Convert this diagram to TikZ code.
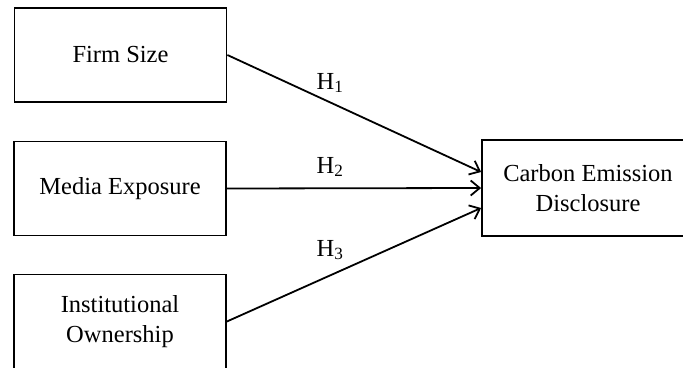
\documentclass[tikz,border=0pt]{standalone}
\usepackage{fontspec}
\setmainfont{Liberation Serif}
\usetikzlibrary{arrows.meta}

\tikzset{
    varbox/.style={draw, line width=1.8pt, minimum width=212pt, minimum height=94pt,
        align=center, font=\fontsize{24.5}{30.5}\selectfont},
    hyp/.style={line width=1.8pt, -{Straight Barb[length=9pt, width=15pt, line width=1.8pt]}},
    hlabel/.style={font=\fontsize{24.5}{30}\selectfont}
}

\begin{document}
\begin{tikzpicture}[x=1pt, y=-1pt]
    \useasboundingbox (0,0) rectangle (683,367);

    % 自变量
    \node[varbox] (fs) at (120.5, 55) {Firm Size};
    \node[varbox] (me) at (120, 188.5) {Media Exposure};
    \node[varbox] (io) at (120, 321.5) {Institutional\\Ownership};

    % 因变量
    \node[varbox, minimum width=212pt, minimum height=96pt] (ced) at (588, 188) {Carbon Emission\\Disclosure};

    % 假设
    \draw[hyp] (fs.east) -- ([yshift=16pt]ced.west);
    \draw[hyp] (me.east) -- (ced.west);
    \draw[hyp] (io.east) -- ([yshift=-20pt]ced.west);

    \node[hlabel] (h1) at (330, 83) {H\textsubscript{1}};
    \node[hlabel] (h2) at (330, 167) {H\textsubscript{2}};
    \node[hlabel] (h3) at (330, 250) {H\textsubscript{3}};
\end{tikzpicture}
\end{document}
